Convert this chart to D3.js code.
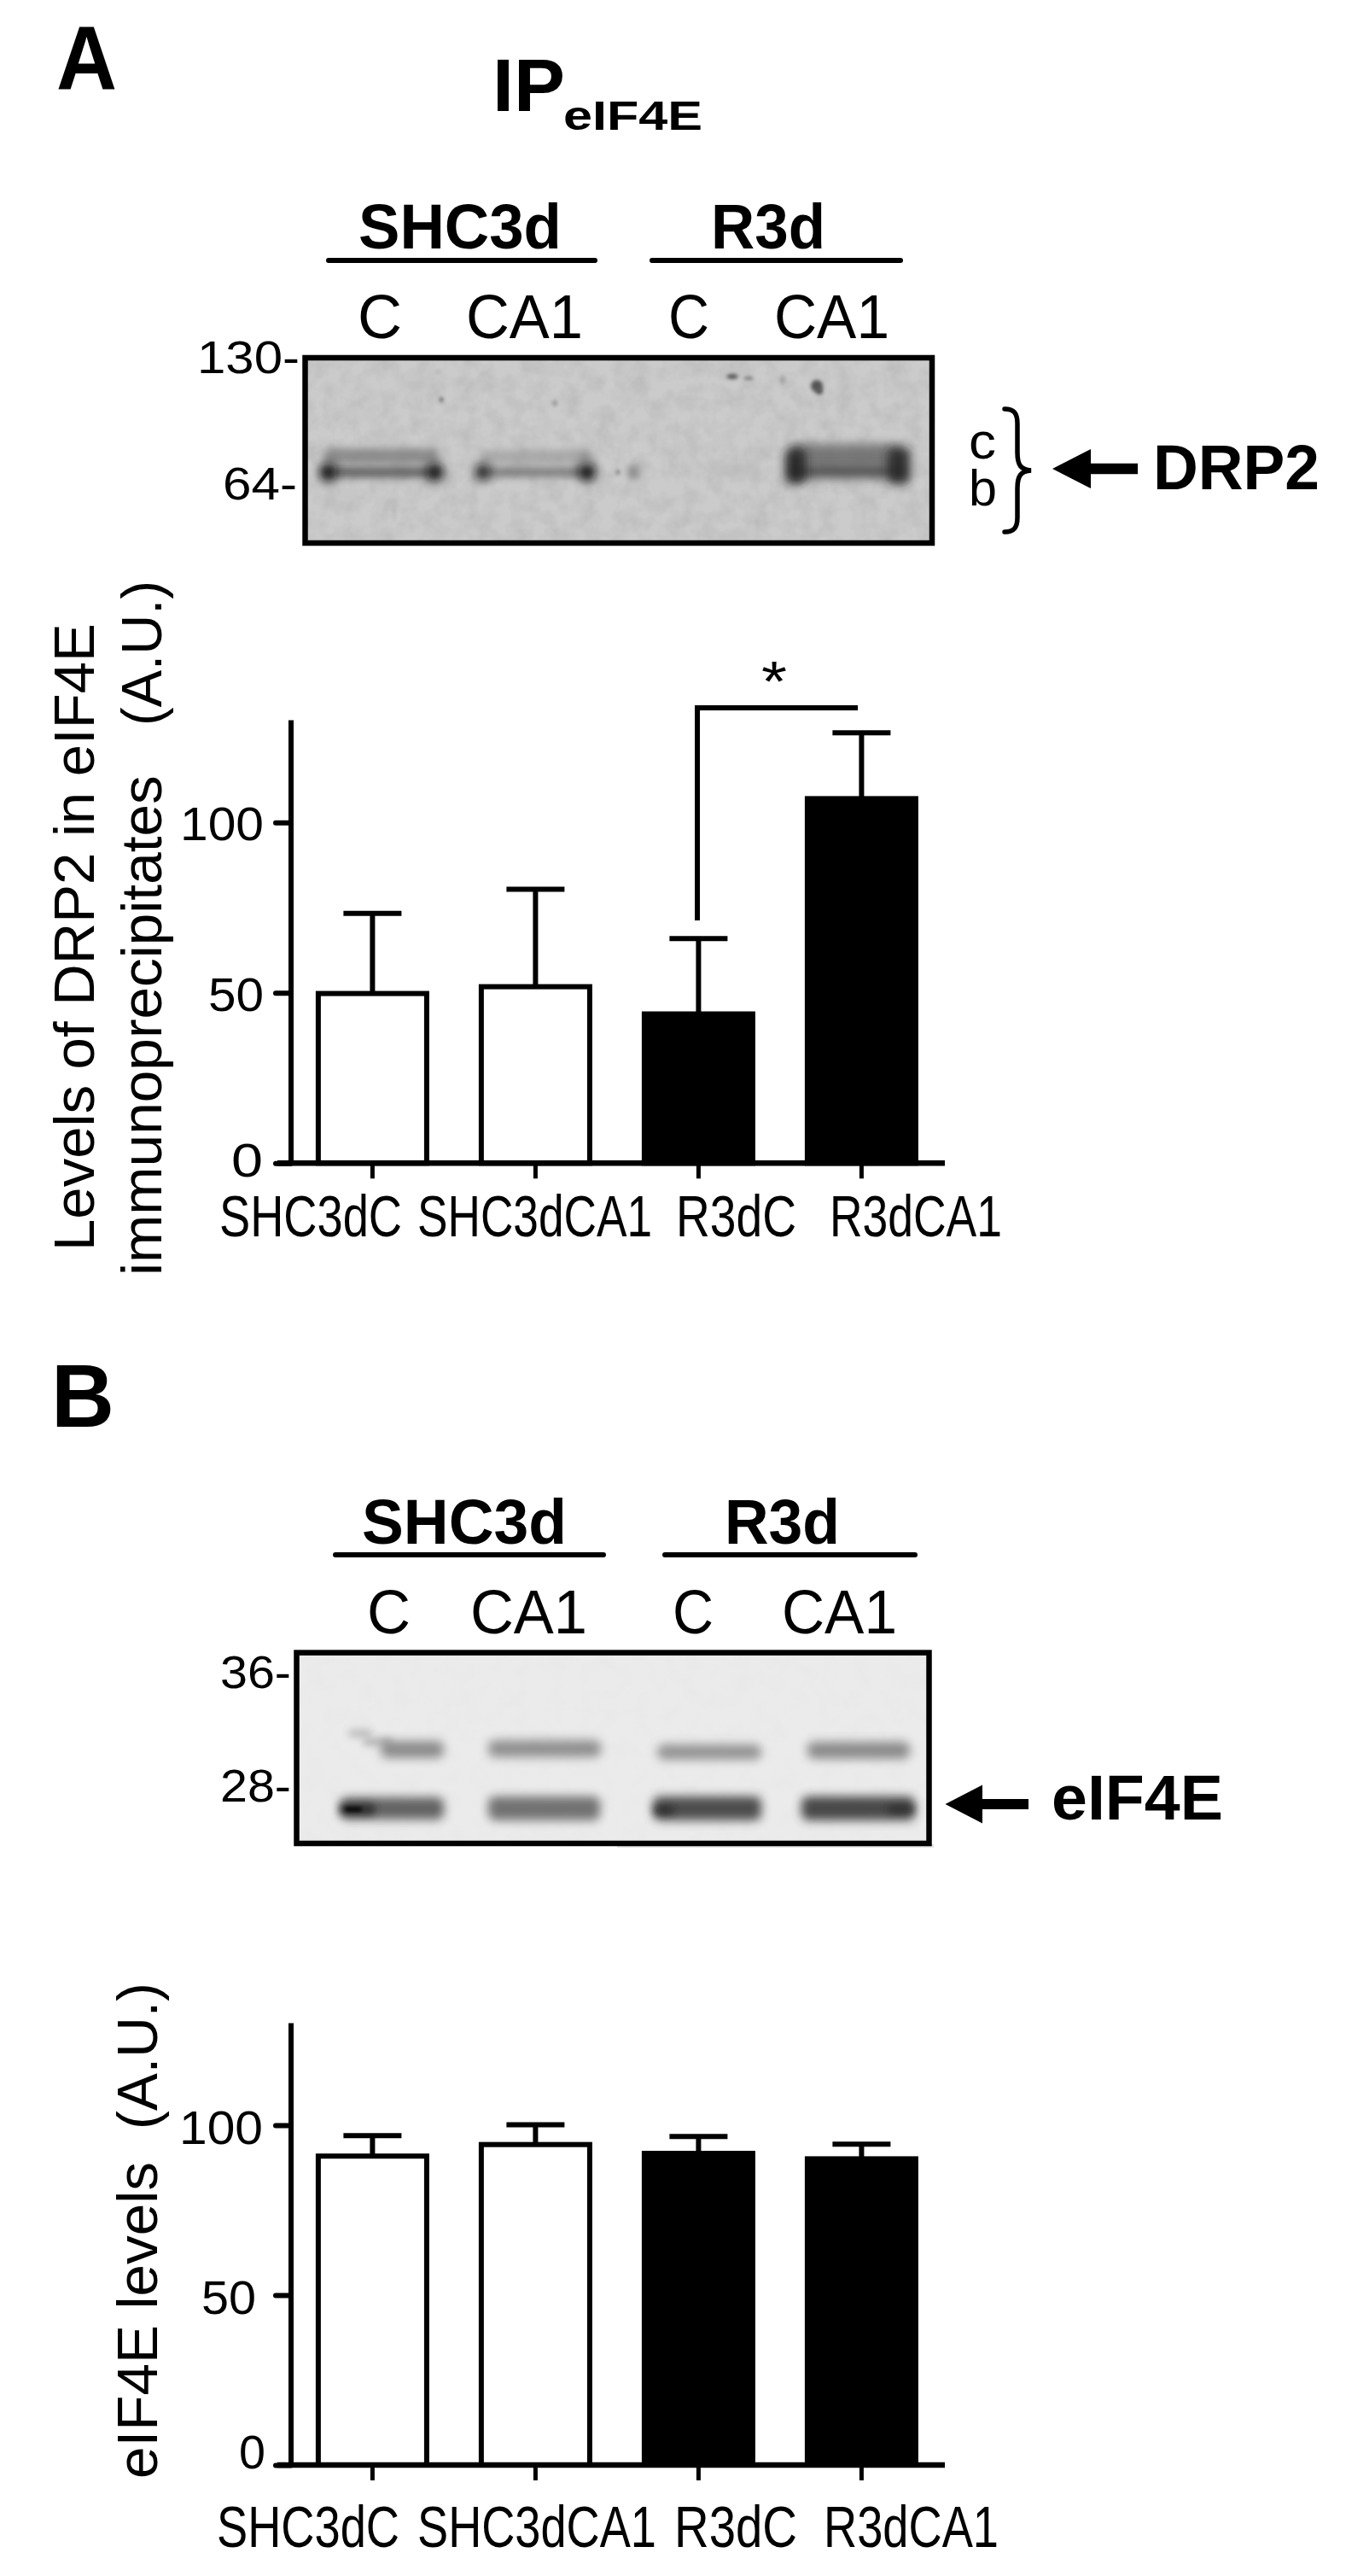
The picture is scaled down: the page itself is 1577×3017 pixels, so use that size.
<!DOCTYPE html>
<html><head><meta charset="utf-8">
<style>html,body{margin:0;padding:0;background:#fff}svg{display:block}text{font-family:"Liberation Sans",Arial,sans-serif;fill:#000}</style>
<script src="https://cdnjs.cloudflare.com/ajax/libs/d3/7.8.5/d3.min.js"></script>
</head><body><svg id="fig" width="1577" height="3017"></svg>
<script>
// ---- data ----
const categories = ["SHC3dC","SHC3dCA1","R3dC","R3dCA1"];
const fills = ["open","open","solid","solid"];
const drp2Means = [49.8, 51.8, 43.8, 107];
const drp2Upper = [73.3, 80.4, 65.9, 126.3];
const eif4eMeans = [90.9, 94.3, 91.7, 90.1];
const eif4eUpper = [96.9, 100.1, 96.7, 94.4];
const yTicks = [0, 50, 100];
const laneGroups = ["SHC3d","R3d"];
const laneLabels = ["C","CA1","C","CA1"];

const svg = d3.select("#fig");
const defs = svg.append("defs");
[["b2",2],["b4",4],["b6",6],["b9",9]].forEach(([id,s])=>{
  defs.append("filter").attr("id",id).attr("filterUnits","userSpaceOnUse").attr("x",0).attr("y",0).attr("width",1577).attr("height",3017)
    .append("feGaussianBlur").attr("stdDeviation",s);
});
const noise = defs.append("filter").attr("id","mottle").attr("x",0).attr("y",0).attr("width","100%").attr("height","100%");
noise.append("feTurbulence").attr("type","fractalNoise").attr("baseFrequency","0.05").attr("numOctaves",3).attr("seed",4);
noise.append("feColorMatrix").attr("values","0 0 0 0 0  0 0 0 0 0  0 0 0 0 0  0.5 0 0 0 -0.17");

function put(g, str, x0, x1, base, size, weight){
  const t = g.append("text").text(str).attr("font-size",size).attr("font-weight",weight||"normal");
  const w = t.node().getComputedTextLength();
  t.attr("transform",`translate(${x0},${base}) scale(${(x1-x0)/w},1)`);
  return t;
}
function putV(g, str, yBottom, yTop, baseX, size){
  const t = g.append("text").text(str).attr("font-size",size);
  const w = t.node().getComputedTextLength();
  t.attr("transform",`translate(${baseX},${yBottom}) rotate(-90) scale(${(yBottom-yTop)/w},1)`);
  return t;
}

function barChart(cfg){
  const g = svg.append("g");
  const x = d3.scaleBand().domain(categories).range([340.9,1104.9]).paddingInner(.335).paddingOuter(.1675);
  const y = d3.scaleLinear().domain([0,130]).range([cfg.y0, cfg.y0 - 130*cfg.k]);
  const sw = 6;
  const eb = g.selectAll(".eb").data(categories).join("g");
  const cx = d=>x(d)+x.bandwidth()/2;
  eb.append("line").attr("x1",cx).attr("x2",cx)
    .attr("y1",(d,i)=>y(cfg.means[i])).attr("y2",(d,i)=>y(cfg.upper[i])).attr("stroke","#000").attr("stroke-width",sw);
  eb.append("line").attr("x1",d=>cx(d)-34).attr("x2",d=>cx(d)+34)
    .attr("y1",(d,i)=>y(cfg.upper[i])).attr("y2",(d,i)=>y(cfg.upper[i])).attr("stroke","#000").attr("stroke-width",sw);
  g.selectAll(".bar").data(categories).join("rect")
    .attr("x",d=>x(d)).attr("width",x.bandwidth())
    .attr("y",(d,i)=>y(cfg.means[i])).attr("height",(d,i)=>y(0)-y(cfg.means[i]))
    .attr("fill",(d,i)=>fills[i]==="solid"?"#000":"#fff").attr("stroke","#000").attr("stroke-width",sw);
  const ya = g.append("g").attr("transform","translate(341,0)")
    .call(d3.axisLeft(y).tickValues(yTicks).tickSize(18).tickFormat(d3.format("d")));
  ya.select(".domain").attr("stroke","#000").attr("stroke-width",sw).attr("d",`M0,${y(130)}V${y(0)}`);
  ya.selectAll("line").attr("stroke","#000").attr("stroke-width",sw).attr("stroke-linecap","round");
  ya.selectAll("text").remove();
  const xa = g.append("g").attr("transform",`translate(0,${cfg.y0})`)
    .call(d3.axisBottom(x).tickSize(cfg.tick).tickFormat(""));
  xa.select(".domain").attr("stroke","#000").attr("stroke-width",6.5).attr("d","M325,0H1107");
  xa.selectAll("line").attr("stroke","#000").attr("stroke-width",5);
  xa.selectAll("text").remove();
  yTicks.forEach((v,i)=>{ const s=cfg.yLabels[i]; put(g,String(v),s[0],s[1],s[2],56); });
  categories.forEach((c,i)=>{ const s=cfg.xLabels[i]; put(g,c,s[0],s[1],cfg.xBase,68); });
  return {g,x,y};
}

const A = barChart({means:drp2Means, upper:drp2Upper, y0:1362.3, k:3.99, tick:18, xBase:1448,
  xLabels:[[257,471],[489,764],[792,933],[972,1174]],
  yLabels:[[271,308,1378],[244,309,1184],[211,309,984]]});
const B = barChart({means:eif4eMeans, upper:eif4eUpper, y0:2887, k:3.98, tick:18, xBase:2983,
  xLabels:[[254,468],[489,769],[790,934],[965,1170]],
  yLabels:[[280,311,2891],[236,300,2710],[210,308,2511]]});

A.g.append("path").attr("fill","none").attr("stroke","#000").attr("stroke-width",6)
  .attr("d","M817,1078V829H1005");
put(A.g,"*",892,922,821,66);

putV(A.g,"Levels of DRP2 in eIF4E",1465,730,110,66);
putV(A.g,"immunoprecipitates",1494,908,189,66);
putV(A.g,"(A.U.)",850,680,189,66);
putV(B.g,"eIF4E levels",2903,2532,184,66);
putV(B.g,"(A.U.)",2494,2322,184,66);

const H = svg.append("g");
put(H,"A",66,137,105,105,"bold");
put(H,"B",60,134,1670.5,104,"bold");
put(H,"IP",577,662,130.3,88,"bold");
put(H,"eIF4E",660,823,152,49,"bold");

function header(c){
  c.groups.forEach((n,i)=>{
    const s=c.gSpans[i]; put(H,n,s[0],s[1],c.gBase,75,"bold");
    const l=c.lines[i]; H.append("line").attr("x1",l[0]).attr("x2",l[1]).attr("y1",c.lineY).attr("y2",c.lineY)
      .attr("stroke","#000").attr("stroke-width",6).attr("stroke-linecap","round");
  });
  laneLabels.forEach((n,i)=>{ const s=c.lSpans[i]; put(H,n,s[0],s[1],c.lBase,72); });
}
header({groups:laneGroups,gSpans:[[420,658],[833,967]],gBase:291,lines:[[385,697],[764,1055]],lineY:305,
  lSpans:[[419,471],[546,683],[783,831],[907,1042]],lBase:396});
header({groups:laneGroups,gSpans:[[424,664],[849,984]],gBase:1808,lines:[[393,707],[779,1072]],lineY:1821,
  lSpans:[[430,481],[551,688],[788,836],[916,1051]],lBase:1913});

// blots: soft bands are [x0,x1,yCentre,height,colour,opacity,blur]
function blot(x,y,w,h,bg,mott,bands,specks){
  const id="clip"+y;
  defs.append("clipPath").attr("id",id).append("rect").attr("x",x).attr("y",y).attr("width",w).attr("height",h);
  const g=svg.append("g"); const inner=g.append("g").attr("clip-path",`url(#${id})`);
  inner.append("rect").attr("x",x).attr("y",y).attr("width",w).attr("height",h).attr("fill",bg);
  inner.append("rect").attr("x",x).attr("y",y).attr("width",w).attr("height",h).attr("fill","#000").attr("filter","url(#mottle)").attr("opacity",mott);
  bands.forEach(b=>inner.append("rect").attr("x",b[0]).attr("width",b[1]-b[0]).attr("y",b[2]-b[3]/2).attr("height",b[3])
    .attr("rx",Math.min(b[3]/2,8)).attr("fill",b[4]).attr("opacity",b[5]).attr("filter",`url(#${b[6]})`));
  (specks||[]).forEach(b=>inner.append("ellipse").attr("cx",b[0]).attr("cy",b[1]).attr("rx",b[2]).attr("ry",b[3]).attr("fill",b[4]).attr("filter","url(#b2)"));
  g.append("rect").attr("x",x).attr("y",y).attr("width",w).attr("height",h).attr("fill","none").attr("stroke","#000").attr("stroke-width",6.5);
}
const blotBandsA=[
 // lane 1
 [380,514,534,18,"#757575",.7,"b4"],[378,516,553,14,"#555",.8,"b4"],
 [374,394,553,22,"#111",.8,"b6"],[500,520,553,22,"#111",.8,"b6"],
 // lane 2
 [563,692,535,16,"#949494",.6,"b4"],[561,694,553,12,"#6a6a6a",.75,"b4"],
 [556,574,553,20,"#111",.75,"b6"],[678,698,553,22,"#0d0d0d",.85,"b6"],[680,694,535,16,"#777",.5,"b6"],
 // lane 3 (nearly empty)
 [736,748,553,18,"#666",.65,"b4"],[722,726,553,5,"#444",.8,"b2"],[835,890,550,14,"#aaa",.45,"b6"],
 // lane 4
 [926,1060,533,26,"#6a6a6a",.85,"b6"],[924,1062,552,16,"#444",.9,"b6"],
 [920,944,546,42,"#1c1c1c",.85,"b6"],[1040,1066,546,42,"#202020",.85,"b6"]];
const specksA=[[858,441,7,3,"#555"],[877,443,6,2,"#777"],[957,452,7,7,"#555"],[960,458,4,4,"#555"],[917,445,3,5,"#a0a0a0"],[517,468,2,3,"#555"],[650,472,3,4,"#999"],[513,435,3,1,"#999"],[462,597,1,14,"#aaa"]];
blot(357.5,419,734.5,217,"#cbcbcb",.25,blotBandsA,specksA);

const blotBandsB=[
 // upper band
 [408,436,2030,10,"#b5b5b5",.8,"b4"],[425,460,2040,10,"#aaa",.8,"b4"],[446,520,2049,20,"#7a7a7a",.85,"b6"],
 [572,704,2048,20,"#808080",.85,"b6"],
 [770,892,2052,18,"#8a8a8a",.9,"b6"],
 [946,1066,2050,20,"#808080",.9,"b6"],
 // lower band
 [398,520,2118,26,"#5c5c5c",.95,"b6"],[398,440,2119,13,"#2a2a2a",.9,"b4"],[404,424,2119,6,"#000",.8,"b2"],
 [572,703,2118,28,"#6c6c6c",.95,"b6"],
 [765,892,2118,28,"#444",.95,"b6"],[766,790,2120,10,"#222",.7,"b4"],
 [939,1072,2118,28,"#404040",.95,"b6"],[1040,1072,2119,10,"#222",.6,"b4"]];
svg.append("rect").attr("x",723).attr("y",2160).attr("width",371).attr("height",4).attr("fill","#e4e4e4");
blot(347.5,1935.6,741,223.4,"#ebebeb",.04,blotBandsB,[]);

put(H,"130-",231,351,437,54);
put(H,"64-",261,348,585,54);
put(H,"36-",258,341,1977,54);
put(H,"28-",258,341,2110,54);

put(H,"c",1135,1167,537,60);
put(H,"b",1135,1168,592,60);
H.append("path").attr("fill","none").attr("stroke","#000").attr("stroke-width",5.5).attr("stroke-linecap","round")
 .attr("d","M1177,479C1188,479 1192,484 1192,496V530C1192,545 1196,550 1208,551C1196,552 1192,557 1192,572V606C1192,618 1188,623 1177,623");
const arrow=(tip,end,cy,hx,hh,sh)=>H.append("path").attr("fill","#000")
 .attr("d",`M${tip},${cy}L${hx},${cy-hh}V${cy-sh}H${end}V${cy+sh}H${hx}V${cy+hh}Z`);
arrow(1233,1333,549,1278,23,6.2);
arrow(1107.5,1205,2113,1151,22.5,6);
put(H,"DRP2",1351,1546,573,74,"bold");
put(H,"eIF4E",1232,1433,2131,74,"bold");
</script></body></html>
